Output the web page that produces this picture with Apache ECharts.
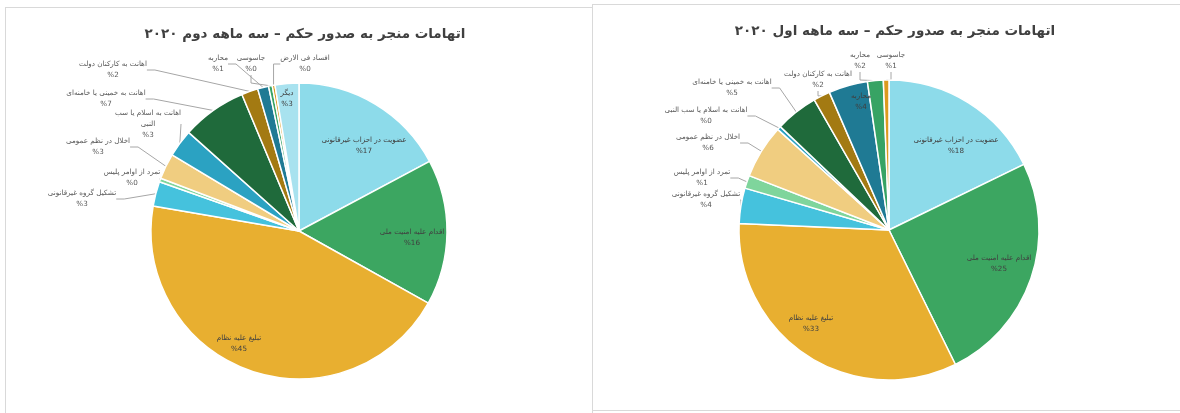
<!DOCTYPE html>
<html>
<head>
<meta charset="utf-8">
<script src="https://cdn.jsdelivr.net/npm/echarts@6/dist/echarts.min.js"></script>
<style>
html,body{margin:0;padding:0;background:#fff;width:1180px;height:413px;overflow:hidden;}
.panel{position:absolute;border:1px solid #d9d9d9;background:#fff;box-sizing:border-box;}
#p1{left:5px;top:7px;width:588px;height:420px;}
#p2{left:592px;top:4px;width:600px;height:407px;}
#chart{position:absolute;left:0;top:0;width:1180px;height:413px;}
</style>
</head>
<body>
<div class="panel" id="p1"></div>
<div class="panel" id="p2"></div>
<div id="chart"></div>
<script>
// ---- data: second quarter 2020 (left chart) ----
const q2Title = 'اتهامات منجر به صدور حکم – سه ماهه دوم ۲۰۲۰';
const q2Categories = [
  'عضویت در احزاب غیرقانونی',
  'اقدام علیه امنیت ملی',
  'تبلیغ علیه نظام',
  'تشکیل گروه غیرقانونی',
  'تمرد از اوامر پلیس',
  'اخلال در نظم عمومی',
  'اهانت به اسلام یا سب النبی',
  'اهانت به خمینی یا خامنه‌ای',
  'اهانت به کارکنان دولت',
  'محاربه',
  'جاسوسی',
  'افساد فی الارض',
  'دیگر'
];
const q2Values = [17.2, 15.9, 44.6, 2.7, 0.4, 2.8, 3.0, 7.1, 1.8, 1.2, 0.4, 0.3, 2.6];

// ---- data: first quarter 2020 (right chart) ----
const q1Title = 'اتهامات منجر به صدور حکم – سه ماهه اول ۲۰۲۰';
const q1Categories = [
  'عضویت در احزاب غیرقانونی',
  'اقدام علیه امنیت ملی',
  'تبلیغ علیه نظام',
  'تشکیل گروه غیرقانونی',
  'تمرد از اوامر پلیس',
  'اخلال در نظم عمومی',
  'اهانت به اسلام یا سب النبی',
  'اهانت به خمینی یا خامنه‌ای',
  'اهانت به کارکنان دولت',
  'محاربه',
  'محاربه',
  'جاسوسی'
];
const q1Values = [17.8, 24.9, 33.0, 3.8, 1.4, 5.8, 0.4, 4.6, 1.8, 4.2, 1.7, 0.6];

// ---- styling / layout (not data) ----
const palette = ['#8ddbea','#3ca661','#e8af30','#45c2dd','#7fd59c','#f0cd80','#2ba2c2','#1f6a3b','#a37a12','#1f7a94','#37a364','#dc9a1f','#a8e2ef'];
const FONT = 'DejaVu Sans';
const q2Inside = [0,1,2,12];
const q1Inside = [0,1,2,9];
const q2LabelPos = [[364,146],[412,238],[239,344],[82,199],[132,178],[98,147],[148,124],[106,99],[113,70],[218,64],[251,64],[305,64],[287,99]];
const q1LabelPos = [[956,146],[999,264],[811,324],[706,200],[702,178],[708,143],[706,116],[732,88],[818,80],[861,102],[860,61],[891,61]];

function buildData(cats, vals, inside) {
  return cats.map((c, i) => ({
    name: c,
    value: vals[i],
    itemStyle: {color: palette[i % palette.length]},
    label: {position: inside.indexOf(i) >= 0 ? 'inside' : 'outside',
            color: inside.indexOf(i) >= 0 ? '#404040' : '#595959'},
    labelLine: {show: inside.indexOf(i) < 0}
  }));
}

function pieSeries(cats, vals, inside, center, radius, labelPos, wrap) {
  return {
    type: 'pie',
    center: center,
    radius: radius,
    startAngle: 90,
    clockwise: true,
    avoidLabelOverlap: false,
    silent: true,
    itemStyle: {borderColor: '#ffffff', borderWidth: 1.5},
    label: {
      fontFamily: FONT,
      fontSize: 7.2,
      lineHeight: 11,
      color: '#595959',
      align: 'center',
      formatter: function (p) {
        let n = p.name;
        if (wrap) n = n.replace(' النبی', '\nالنبی');
        return n + '\n%' + Math.round(p.percent);
      }
    },
    labelLine: {lineStyle: {color: '#a6a6a6', width: 1}, length: 10, length2: 8, smooth: false},
    labelLayout: function (params) {
      const p = labelPos[params.dataIndex];
      return {x: p[0], y: p[1], align: 'center', verticalAlign: 'middle'};
    },
    emphasis: {disabled: true},
    data: buildData(cats, vals, inside)
  };
}

const chart = echarts.init(document.getElementById('chart'), null, {renderer: 'canvas'});
chart.setOption({
  animation: false,
  backgroundColor: 'transparent',
  title: [
    {text: q2Title, left: 300, top: 22, textAlign: 'center',
     textStyle: {fontFamily: FONT, fontSize: 13.5, fontWeight: 'bold', color: '#404040'}},
    {text: q1Title, left: 890, top: 19, textAlign: 'center',
     textStyle: {fontFamily: FONT, fontSize: 13.5, fontWeight: 'bold', color: '#404040'}}
  ],
  series: [
    pieSeries(q2Categories, q2Values, q2Inside, [299, 231], 148, q2LabelPos, true),
    pieSeries(q1Categories, q1Values, q1Inside, [889, 230], 150, q1LabelPos, false)
  ]
});
</script>
</body>
</html>
